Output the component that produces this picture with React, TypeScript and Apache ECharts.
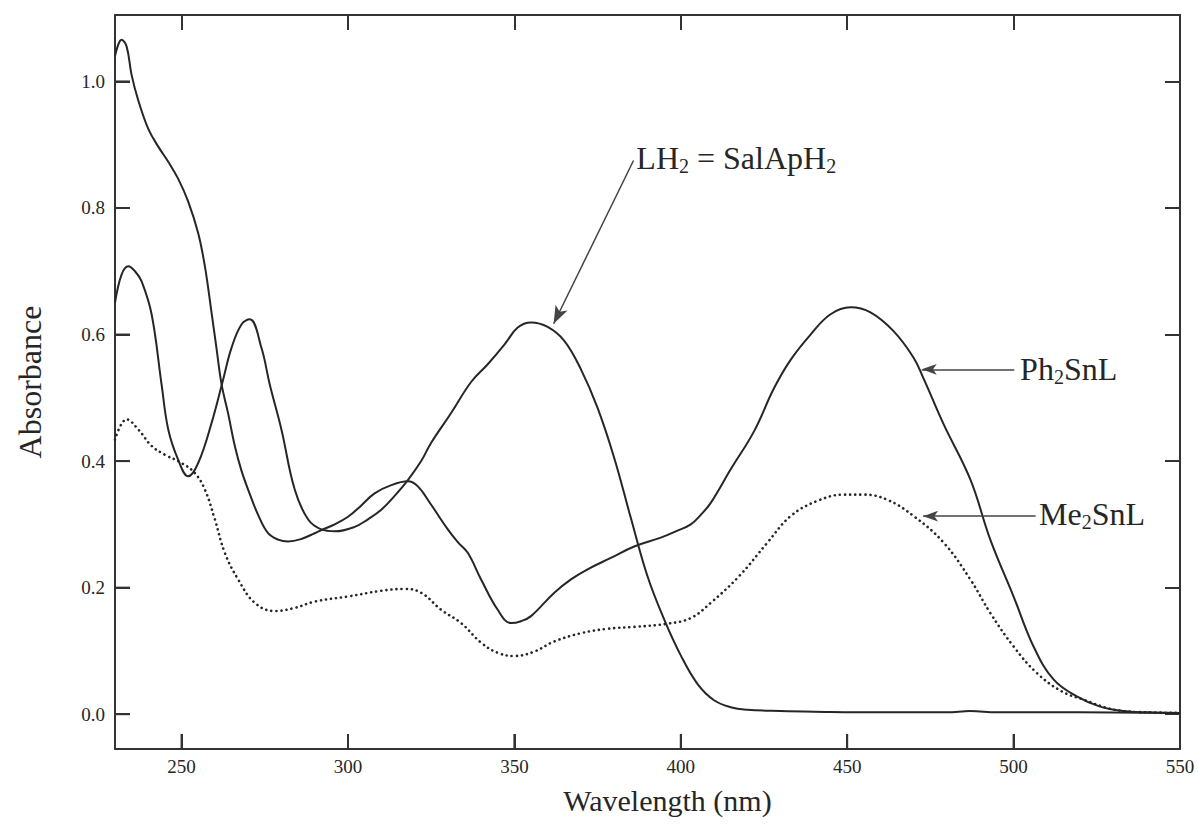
import React, { useEffect, useRef } from "react";
import * as echarts from "echarts";

// UV-Vis absorption spectra: wavelength (nm) vs absorbance
const ph2Wavelength = [230, 232, 233.5, 235, 237, 240, 243, 246, 249, 252, 255, 257, 259, 260.5, 262, 264, 266, 268, 270, 273, 276, 279, 282, 286, 290, 292, 296, 300, 304, 308, 313, 318, 321, 325, 330, 333, 336, 340, 345, 349, 352, 355, 362, 367, 372, 379, 386, 394, 399, 403, 406, 409, 415, 422, 428, 433, 439, 445, 451, 457, 464, 470, 473, 479, 487, 493, 500, 506, 512, 519, 526, 533, 540, 550];
const ph2Absorbance = [1.04, 1.066, 1.055, 1.01, 0.97, 0.925, 0.897, 0.873, 0.846, 0.81, 0.76, 0.708, 0.635, 0.578, 0.522, 0.475, 0.424, 0.385, 0.355, 0.315, 0.286, 0.276, 0.273, 0.277, 0.286, 0.291, 0.3, 0.312, 0.33, 0.349, 0.362, 0.368, 0.36, 0.331, 0.292, 0.272, 0.255, 0.213, 0.165, 0.144, 0.147, 0.155, 0.192, 0.213, 0.229, 0.247, 0.265, 0.279, 0.29, 0.3, 0.315, 0.334, 0.387, 0.447, 0.515, 0.56, 0.6, 0.632, 0.643, 0.635, 0.605, 0.563, 0.53, 0.458, 0.371, 0.276, 0.186, 0.107, 0.055, 0.028, 0.012, 0.005, 0.003, 0.002];

const lh2Wavelength = [230, 232, 234, 236, 238, 241, 244, 246, 249, 252, 255, 259, 262.5, 265, 268, 270.5, 274, 276.5, 280, 284, 288, 292, 296, 302, 306, 310, 314, 318, 322, 325, 331, 337, 342, 347, 351, 355, 360, 365, 370, 375, 380, 385, 390, 395, 400, 405, 410, 415, 420, 430, 440, 460, 480, 487, 495, 520, 550];
const lh2Absorbance = [0.65, 0.695, 0.708, 0.7, 0.684, 0.632, 0.521, 0.45, 0.402, 0.376, 0.397, 0.46, 0.529, 0.579, 0.616, 0.624, 0.579, 0.521, 0.45, 0.355, 0.308, 0.292, 0.289, 0.296, 0.308, 0.323, 0.345, 0.37, 0.4, 0.429, 0.476, 0.525, 0.553, 0.584, 0.611, 0.619, 0.612, 0.59, 0.545, 0.484, 0.405, 0.31, 0.218, 0.15, 0.093, 0.048, 0.022, 0.011, 0.007, 0.005, 0.004, 0.003, 0.003, 0.005, 0.003, 0.003, 0.002];

const me2Wavelength = [230, 233.5, 237, 241, 245, 250, 254, 257, 260, 263, 267, 272, 278, 284, 290, 300, 310, 317, 322, 328, 334, 340, 345, 350, 356, 362, 370, 378, 386, 396, 403, 409, 417.5, 426, 433, 441, 449, 455, 462, 470, 479, 487, 493, 500, 507, 514.5, 521, 528, 533, 540, 550];
const me2Absorbance = [0.434, 0.466, 0.45, 0.424, 0.41, 0.397, 0.381, 0.355, 0.308, 0.255, 0.213, 0.176, 0.163, 0.168, 0.178, 0.186, 0.195, 0.198, 0.192, 0.165, 0.144, 0.113, 0.097, 0.092, 0.099, 0.115, 0.128, 0.135, 0.138, 0.143, 0.152, 0.176, 0.218, 0.271, 0.313, 0.337, 0.347, 0.347, 0.339, 0.313, 0.271, 0.213, 0.16, 0.107, 0.065, 0.036, 0.023, 0.01, 0.005, 0.003, 0.002];

const xTicks = [250, 300, 350, 400, 450, 500, 550];
const yTicks = [0, 0.2, 0.4, 0.6, 0.8, 1.0];

const X_MIN = 230;
const X_MAX = 550;
const Y_MIN = -0.055;
const Y_MAX = 1.105;

const FONT = "Liberation Serif";
const INK = "#262626";
const FRAME = "#333";
const TICK_LEN = 15;

const pairs = (xs: number[], ys: number[]) => xs.map((x, i) => [x, ys[i]]);

const richStyles = {
  m: { fontFamily: FONT, fontSize: 32, color: INK, lineHeight: 36 },
  s: { fontFamily: FONT, fontSize: 20, color: INK, lineHeight: 14, verticalAlign: "bottom" },
};

function textPoint(coord: number[], formatter: string) {
  return {
    coord,
    symbol: "circle",
    symbolSize: 1,
    itemStyle: { color: "rgba(0,0,0,0)" },
    label: { show: true, position: "right", distance: 0, formatter, rich: richStyles },
  };
}

function arrow(from: number[], to: number[], size: number[]) {
  return [
    { coord: from, symbol: "none" },
    { coord: to, symbol: "arrow", symbolSize: size },
  ];
}

const frameLine = { show: true, onZero: false, lineStyle: { color: FRAME, width: 2 } };
const tickStyle = { color: FRAME, width: 2 };

// one frame side: axis line with inward ticks, optional labels
function frameAxis(position: string, range: number[], ticks: number[], extra: any = {}) {
  return {
    type: "value",
    min: range[0],
    max: range[1],
    position,
    axisLine: frameLine,
    axisTick: { show: true, inside: true, length: TICK_LEN, customValues: ticks, lineStyle: tickStyle },
    axisLabel: { show: false },
    splitLine: { show: false },
    ...extra,
  };
}

export default function App() {
  const ref = useRef<HTMLDivElement>(null);

  useEffect(() => {
    if (!ref.current) return;
    const chart = echarts.init(ref.current, null, { renderer: "svg" });

    chart.setOption({
      animation: false,
      backgroundColor: "#fff",
      grid: { left: 115, right: 18, top: 15, bottom: 78 },
      xAxis: [
        frameAxis("bottom", [X_MIN, X_MAX], xTicks, {
          axisLabel: { show: true, customValues: xTicks, fontFamily: FONT, fontSize: 19, color: INK, margin: 8 },
          name: "Wavelength (nm)",
          nameLocation: "middle",
          nameGap: 36,
          nameTextStyle: { fontFamily: FONT, fontSize: 30, color: INK, padding: [0, 0, 0, 40] },
        }),
        frameAxis("top", [X_MIN, X_MAX], xTicks),
      ],
      yAxis: [
        frameAxis("left", [Y_MIN, Y_MAX], yTicks, {
          axisLabel: {
            show: true,
            customValues: yTicks,
            fontFamily: FONT,
            fontSize: 19,
            color: INK,
            margin: 10,
            formatter: (v: number) => v.toFixed(1),
          },
          name: "Absorbance",
          nameLocation: "middle",
          nameGap: 69,
          nameTextStyle: { fontFamily: FONT, fontSize: 32, color: INK },
        }),
        frameAxis("right", [Y_MIN, Y_MAX], yTicks),
      ],
      series: [
        {
          name: "Ph2SnL",
          type: "line",
          data: pairs(ph2Wavelength, ph2Absorbance),
          showSymbol: false,
          smooth: 0.4,
          silent: true,
          lineStyle: { color: INK, width: 2 },
          markLine: {
            silent: true,
            label: { show: false },
            lineStyle: { color: "#444", width: 1.5, type: "solid" },
            data: [arrow([500.2, 0.545], [472.4, 0.545], [8, 15])],
          },
          markPoint: { silent: true, data: [textPoint([501.8, 0.545], "{m|Ph}{s|2}{m|SnL}")] },
        },
        {
          name: "LH2",
          type: "line",
          data: pairs(lh2Wavelength, lh2Absorbance),
          showSymbol: false,
          smooth: 0.4,
          silent: true,
          lineStyle: { color: INK, width: 2 },
          markLine: {
            silent: true,
            label: { show: false },
            lineStyle: { color: "#444", width: 1.5, type: "solid" },
            data: [arrow([385.8, 0.875], [361.8, 0.617], [10, 18])],
          },
          markPoint: { silent: true, data: [textPoint([386.5, 0.879], "{m|LH}{s|2}{m| = SalApH}{s|2}")] },
        },
        {
          name: "Me2SnL",
          type: "line",
          data: pairs(me2Wavelength, me2Absorbance),
          showSymbol: false,
          smooth: 0.4,
          silent: true,
          lineStyle: { color: INK, width: 2.6, type: [0.1, 5], cap: "round" },
          markLine: {
            silent: true,
            label: { show: false },
            lineStyle: { color: "#444", width: 1.5, type: "solid", cap: "butt" },
            data: [arrow([506.6, 0.313], [472.8, 0.313], [8, 15])],
          },
          markPoint: { silent: true, data: [textPoint([507.5, 0.317], "{m|Me}{s|2}{m|SnL}")] },
        },
      ],
    });

    // inward tick marks on the bottom and left frame edges, placed through the axis scales
    const toPx = (v: number[]) => chart.convertToPixel({ xAxisIndex: 0, yAxisIndex: 0 }, v) as number[];
    const tickLines: any[] = [];
    xTicks.forEach((v) => {
      const p = toPx([v, Y_MIN]);
      tickLines.push({
        type: "line",
        z: 50,
        silent: true,
        shape: { x1: p[0], y1: p[1], x2: p[0], y2: p[1] - TICK_LEN },
        style: { stroke: FRAME, lineWidth: 2 },
      });
    });
    yTicks.forEach((v) => {
      const p = toPx([X_MIN, v]);
      tickLines.push({
        type: "line",
        z: 50,
        silent: true,
        shape: { x1: p[0], y1: p[1], x2: p[0] + TICK_LEN, y2: p[1] },
        style: { stroke: FRAME, lineWidth: 2 },
      });
    });
    chart.setOption({ graphic: { elements: tickLines } });

    return () => chart.dispose();
  }, []);

  return <div ref={ref} style={{ position: "absolute", left: 0, top: 0, width: 1198, height: 827 }} />;
}
